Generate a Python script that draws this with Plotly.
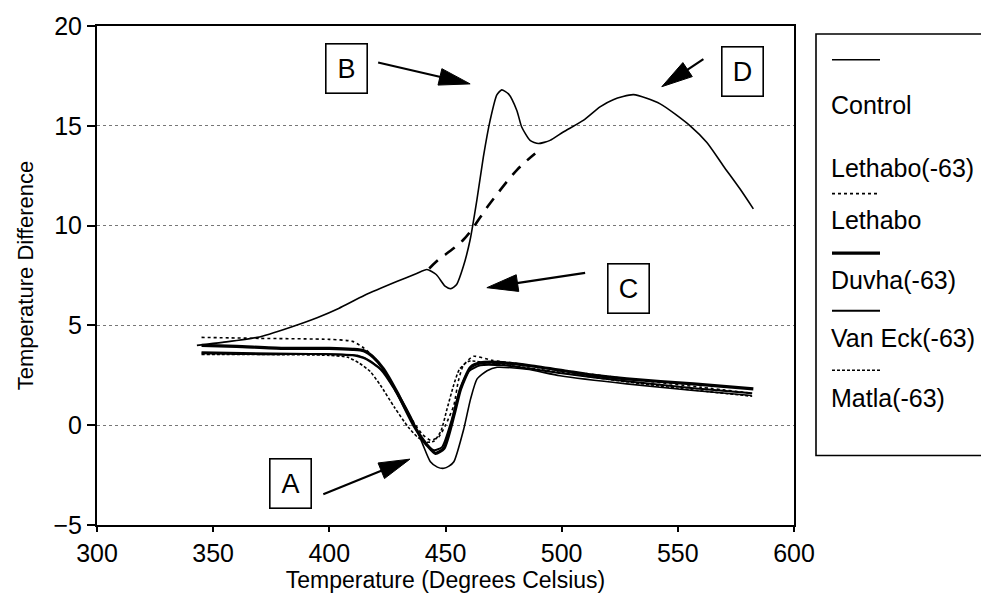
import math
import plotly.graph_objects as go

# ---------------- data ----------------
control_x = [343, 354, 369, 383, 395, 404, 415, 429, 437.6, 442, 446, 449.8, 452.3, 454.8, 457.7,
             460.6, 463.5, 466.3, 469.2, 472.1, 474.2, 477.1, 480.7, 482.8, 486.4, 490, 495, 500.7,
             509.3, 516.5, 522.2, 530.9, 542.4, 555.3, 562.5, 569.6, 576.8, 582.5]
control_y = [4.0, 4.15, 4.4, 4.9, 5.4, 5.85, 6.5, 7.2, 7.6, 7.8, 7.55, 6.97, 6.84, 7.05, 7.96,
             9.29, 11.28, 13.44, 15.27, 16.55, 16.8, 16.6, 15.77, 14.94, 14.27, 14.11, 14.27, 14.69,
             15.27, 15.95, 16.31, 16.56, 16.1, 15.0, 14.16, 12.99, 11.83, 10.84]

baseline_x = [443, 446.2, 457.7, 469.2, 480.7, 488.6]
baseline_y = [7.85, 8.21, 9.29, 11.12, 12.78, 13.61]

lethabo63_x = [345, 370, 400, 412, 418, 424, 430, 436, 440, 443.5, 446.5, 449.3, 451.5, 453.6, 457.9,
               460.8, 463.6, 467.9, 472.2, 485, 499.3, 528, 556.7, 581.8]
lethabo63_y = [3.6, 3.55, 3.57, 3.5, 3.2, 2.6, 1.5, 0.2, -0.9, -1.83, -2.1, -2.16, -2.05, -1.83, -0.17,
               1.32, 2.32, 2.73, 2.9, 2.8, 2.48, 2.07, 1.74, 1.49]

lethabo_x = [345, 370, 400, 410, 415, 420, 425, 430, 436, 440, 443.5, 447, 450, 453.6, 455.5, 457.7,
             462, 470, 480, 500, 530, 560, 582]
lethabo_y = [4.4, 4.35, 4.3, 4.2, 3.85, 3.3, 2.4, 1.4, 0.2, -0.45, -0.75, -0.6, 0.0, 1.0, 2.2, 3.0,
             3.45, 3.25, 3.1, 2.75, 2.3, 1.9, 1.6]

duvha63_x = [345, 360, 380, 400, 410, 414.8, 419, 423.3, 429.1, 436.3, 442.1, 445.7, 449.3, 453.6,
             456.5, 460.8, 465, 472.2, 486.5, 500.9, 512.4, 528, 556.7, 582.5]
duvha63_y = [4.0, 3.95, 3.85, 3.85, 3.8, 3.73, 3.4, 2.82, 1.66, 0.0, -1.0, -1.41, -1.17, 0.49,
             1.82, 2.9, 3.12, 3.15, 2.98, 2.73, 2.52, 2.32, 2.07, 1.82]

vaneck63_x = [345, 400, 410, 416, 422, 428, 435, 441, 445, 448.5, 452.5, 456, 460, 465, 475, 500,
              528, 556.7, 582]
vaneck63_y = [3.65, 3.55, 3.5, 3.3, 2.8, 1.8, 0.3, -0.9, -1.25, -1.1, 0.2, 1.7, 2.7, 3.0, 3.0, 2.6,
              2.2, 1.85, 1.6]

matla63_x = [345, 400, 408, 413, 417.5, 422, 428, 434, 438, 441.9, 445, 448, 450.7, 453.5, 456, 460,
             470, 490, 520, 550, 582]
matla63_y = [3.55, 3.5, 3.4, 3.1, 2.7, 2.0, 0.9, -0.1, -0.6, -0.85, -0.8, -0.3, 0.83, 2.0, 2.8, 3.2,
             3.1, 2.8, 2.3, 1.85, 1.45]

legend_names = ["Control", "Lethabo(-63)", "Lethabo", "Duvha(-63)", "Van Eck(-63)", "Matla(-63)"]

x_ticks = [300, 350, 400, 450, 500, 550, 600]
y_ticks = [-5, 0, 5, 10, 15, 20]

# annotation letters: (label, centre x, centre y)
box_labels = ["A", "B", "C", "D"]
box_x = [383.1, 407.4, 528.7, 577.9]
box_y = [-2.94, 17.86, 6.87, 17.72]
# arrows: tail -> tip
arrow_tail_x = [397.4, 421.0, 510.1, 561.0]
arrow_tail_y = [-3.46, 18.17, 7.63, 18.34]
arrow_tip_x = [434.7, 460.6, 467.8, 543.1]
arrow_tip_y = [-1.70, 17.10, 6.89, 16.96]

# ---------------- layout geometry ----------------
W, H = 981, 599
L, R, T, B = 97, 187, 24, 72
PW, PH = W - L - R, H - T - B
XMIN, XMAX, YMIN, YMAX = 300, 600, -5, 20
FONT = "Liberation Sans, Arial, sans-serif"

def px_x(v):
    return L + (v - XMIN) * PW / (XMAX - XMIN)

def px_y(v):
    return T + PH - (v - YMIN) * PH / (YMAX - YMIN)

def data_x(p):
    return XMIN + (p - L) * (XMAX - XMIN) / PW

def data_y(p):
    return YMIN + (T + PH - p) * (YMAX - YMIN) / PH

def pap_x(p):
    return (p - L) / PW

def pap_y(p):
    return (T + PH - p) / PH

fig = go.Figure()

series = [
    (control_x, control_y, dict(color="black", width=1.6)),
    (lethabo63_x, lethabo63_y, dict(color="black", width=1.6)),
    (lethabo_x, lethabo_y, dict(color="black", width=1.6, dash="dot")),
    (duvha63_x, duvha63_y, dict(color="black", width=3.2)),
    (vaneck63_x, vaneck63_y, dict(color="black", width=2.0)),
    (matla63_x, matla63_y, dict(color="black", width=1.6, dash="3px,2px")),
]
for (xs, ys, ln), nm in zip(series, legend_names):
    fig.add_trace(go.Scatter(x=xs, y=ys, mode="lines", name=nm,
                             line=dict(shape="spline", smoothing=0.6, **ln), showlegend=False))

fig.add_trace(go.Scatter(x=baseline_x, y=baseline_y, mode="lines", showlegend=False,
                         line=dict(color="black", width=2.6, dash="12px,9px", shape="spline")))

shapes = []
annotations = []

# letter boxes
for lab, bx, by in zip(box_labels, box_x, box_y):
    annotations.append(dict(x=bx, y=by, xref="x", yref="y", text=lab, showarrow=False,
                            font=dict(family=FONT, size=27, color="black"),
                            width=38, height=46, bordercolor="black", borderwidth=1.6,
                            bgcolor="white"))

# arrows (shaft + filled head)
for tx, ty, hx, hy in zip(arrow_tail_x, arrow_tail_y, arrow_tip_x, arrow_tip_y):
    x0, y0, x1, y1 = px_x(tx), px_y(ty), px_x(hx), px_y(hy)
    dx, dy = x1 - x0, y1 - y0
    d = math.hypot(dx, dy)
    ux, uy = dx / d, dy / d
    hl, hw = 31, 8.5
    bxp, byp = x1 - ux * hl, y1 - uy * hl
    shapes.append(dict(type="line", xref="x", yref="y", x0=tx, y0=ty,
                       x1=data_x(bxp + ux * 4), y1=data_y(byp + uy * 4),
                       line=dict(color="black", width=2.2)))
    p1 = (bxp - uy * hw, byp + ux * hw)
    p2 = (bxp + uy * hw, byp - ux * hw)
    path = "M {} {} L {} {} L {} {} Z".format(data_x(x1), data_y(y1), data_x(p1[0]), data_y(p1[1]),
                                             data_x(p2[0]), data_y(p2[1]))
    shapes.append(dict(type="path", xref="x", yref="y", path=path, fillcolor="black",
                       line=dict(color="black", width=1)))

# custom legend (sample line above each label)
leg_left, leg_top, leg_bottom = 816, 32, 457
shapes.append(dict(type="rect", xref="paper", yref="paper", x0=pap_x(leg_left), x1=pap_x(W + 5),
                   y0=pap_y(leg_bottom), y1=pap_y(leg_top), line=dict(color="black", width=1.6),
                   fillcolor="white", layer="below"))
text_y = [104, 167, 220, 280, 338, 399]
sample_y = [58, None, 193, 253, 311, 371]
sample_style = [dict(width=1.6), None, dict(width=1.6, dash="dot"), dict(width=3.2), dict(width=2.0),
                dict(width=1.6, dash="3px,2px")]
for nm, ty, sy, st in zip(legend_names, text_y, sample_y, sample_style):
    annotations.append(dict(x=pap_x(829), y=pap_y(ty), xref="paper", yref="paper", text=nm,
                            showarrow=False, xanchor="left", yanchor="middle",
                            font=dict(family=FONT, size=25, color="black")))
    if sy is not None:
        shapes.append(dict(type="line", xref="paper", yref="paper", x0=pap_x(832), x1=pap_x(880),
                           y0=pap_y(sy), y1=pap_y(sy), line=dict(color="black", **st)))

fig.update_layout(
    width=W, height=H,
    margin=dict(l=L, r=R, t=T, b=B),
    paper_bgcolor="white", plot_bgcolor="white",
    font=dict(family=FONT, size=22, color="black"),
    shapes=shapes, annotations=annotations,
    showlegend=False,
)
fig.update_xaxes(range=[XMIN, XMAX], tickvals=x_ticks, showgrid=False, zeroline=False,
                 showline=True, mirror=True, linecolor="black", linewidth=2,
                 ticks="outside", ticklen=5, tickcolor="black", tickwidth=1.5,
                 tickfont=dict(size=25),
                 title=dict(text="Temperature (Degrees Celsius)", font=dict(size=23), standoff=4))
fig.update_yaxes(range=[YMIN, YMAX], tickvals=y_ticks, showgrid=True, gridcolor="#777",
                 griddash="dot", gridwidth=1, zeroline=False,
                 showline=True, mirror=True, linecolor="black", linewidth=2,
                 ticks="outside", ticklen=8, tickcolor="black", tickwidth=1.5,
                 tickfont=dict(size=25),
                 title=dict(text="Temperature Difference", font=dict(size=22), standoff=14))

fig.write_html("out.html")
